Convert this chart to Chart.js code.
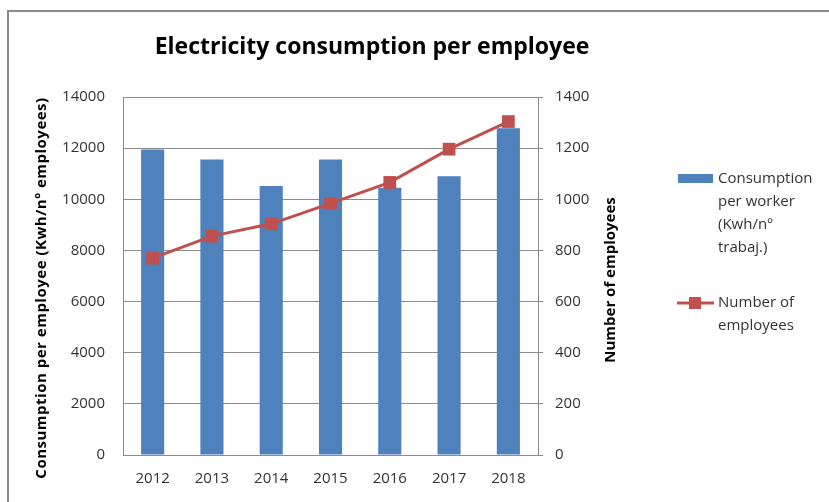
<!DOCTYPE html>
<html>
<head>
<meta charset="utf-8">
<script src="https://cdn.jsdelivr.net/npm/chart.js@4.4.0/dist/chart.umd.min.js"></script>
<style>
  html, body { margin: 0; padding: 0; background: #fff; }
  #wrap { position: relative; width: 829px; height: 502px; }
  #frame { position: absolute; left: 7px; top: 10px; width: 830px; height: 500px;
           border-left: 2px solid #8c8c8c; border-top: 2px solid #8c8c8c; box-sizing: border-box; }
</style>
</head>
<body>
<div id="wrap">
  <div id="frame"></div>
  <canvas id="energyChart"></canvas>
</div>
<script>
// Data
const years = ['2012', '2013', '2014', '2015', '2016', '2017', '2018'];
const consumptionPerWorker = [11950, 11560, 10520, 11560, 10450, 10900, 12780];
const numberOfEmployees = [770, 856, 904, 984, 1066, 1196, 1304];

const titleText = 'Electricity consumption per employee';
const leftAxisTitle = 'Consumption per employee (Kwh/nº employees)';
const rightAxisTitle = 'Number of employees';
const barLegendLines = ['Consumption', 'per worker', '(Kwh/nº', 'trabaj.)'];
const lineLegendLines = ['Number of', 'employees'];

const barColor = '#4F81BD';
const lineColor = '#C0504D';
const gridColor = '#8c8c8c';
const textColor = '#333333';
const fontFamily = '"Open Sans", sans-serif';

// Title, axis titles and legend drawn by hand, Excel style
const excelDecor = {
    id: 'excelDecor',
    afterDraw(chart) {
        const ctx = chart.ctx;
        ctx.save();

        // Title
        ctx.fillStyle = '#000';
        ctx.font = 'bold 23px ' + fontFamily;
        ctx.textAlign = 'center';
        ctx.textBaseline = 'middle';
        ctx.fillText(titleText, 372, 47);

        // Axis titles, both read bottom to top
        ctx.font = 'bold 15px ' + fontFamily;
        ctx.save();
        ctx.letterSpacing = '0.5px';
        ctx.translate(42, 288);
        ctx.rotate(-Math.PI / 2);
        ctx.fillText(leftAxisTitle, 0, 0);
        ctx.restore();
        ctx.save();
        ctx.translate(611, 280);
        ctx.rotate(-Math.PI / 2);
        ctx.fillText(rightAxisTitle, 0, 0);
        ctx.restore();

        // Legend: bars
        ctx.fillStyle = barColor;
        ctx.fillRect(678, 174, 35, 9);
        ctx.fillStyle = textColor;
        ctx.font = '15px ' + fontFamily;
        ctx.textAlign = 'left';
        barLegendLines.forEach((t, i) => ctx.fillText(t, 718, 179 + i * 23));

        // Legend: line
        ctx.strokeStyle = lineColor;
        ctx.lineWidth = 3;
        ctx.beginPath();
        ctx.moveTo(677, 303);
        ctx.lineTo(714, 303);
        ctx.stroke();
        ctx.fillStyle = lineColor;
        ctx.fillRect(689, 297, 12, 12);
        ctx.fillStyle = textColor;
        lineLegendLines.forEach((t, i) => ctx.fillText(t, 718, 303 + i * 23));

        ctx.restore();
    }
};

const ctxEnergy = document.getElementById('energyChart').getContext('2d');
const energyChart = new Chart(ctxEnergy, {
    type: 'bar',
    data: {
        labels: years,
        datasets: [
            {
                type: 'line',
                label: 'Number of employees',
                data: numberOfEmployees,
                yAxisID: 'y1',
                borderColor: lineColor,
                backgroundColor: lineColor,
                borderWidth: 3,
                pointStyle: 'rect',
                pointRadius: 9,
                pointBackgroundColor: lineColor,
                pointBorderColor: lineColor,
                pointBorderWidth: 0,
                tension: 0,
                order: 0
            },
            {
                label: 'Consumption per worker (Kwh/nº trabaj.)',
                data: consumptionPerWorker,
                yAxisID: 'y',
                backgroundColor: barColor,
                borderWidth: 0,
                barPercentage: 0.39,
                categoryPercentage: 1,
                order: 1
            }
        ]
    },
    options: {
        responsive: true,
        maintainAspectRatio: false,
        animation: false,
        layout: {
            padding: { left: 0, right: 199, top: 97, bottom: 0 }
        },
        plugins: {
            legend: { display: false },
            title: { display: false },
            tooltip: { enabled: false }
        },
        scales: {
            x: {
                grid: { display: false, drawTicks: false },
                border: { display: true, color: gridColor, width: 1 },
                ticks: {
                    color: textColor,
                    padding: 15,
                    font: { family: fontFamily, size: 15 }
                },
                afterFit: function(scale) { scale.height = 47; }
            },
            y: {
                position: 'left',
                min: 0,
                max: 14000,
                ticks: {
                    stepSize: 2000,
                    color: textColor,
                    padding: 18,
                    font: { family: fontFamily, size: 15 },
                    callback: function(value) { return String(value); }
                },
                grid: { color: gridColor, drawTicks: false },
                border: { display: true, color: gridColor },
                afterFit: function(scale) { scale.width = 123; }
            },
            y1: {
                position: 'right',
                min: 0,
                max: 1400,
                ticks: {
                    stepSize: 200,
                    color: textColor,
                    padding: 12,
                    font: { family: fontFamily, size: 15 },
                    callback: function(value) { return String(value); }
                },
                grid: { drawOnChartArea: false, color: gridColor, tickLength: 5 },
                border: { display: true, color: gridColor },
                afterFit: function(scale) { scale.width = 92; }
            }
        }
    },
    plugins: [excelDecor]
});
</script>
</body>
</html>
